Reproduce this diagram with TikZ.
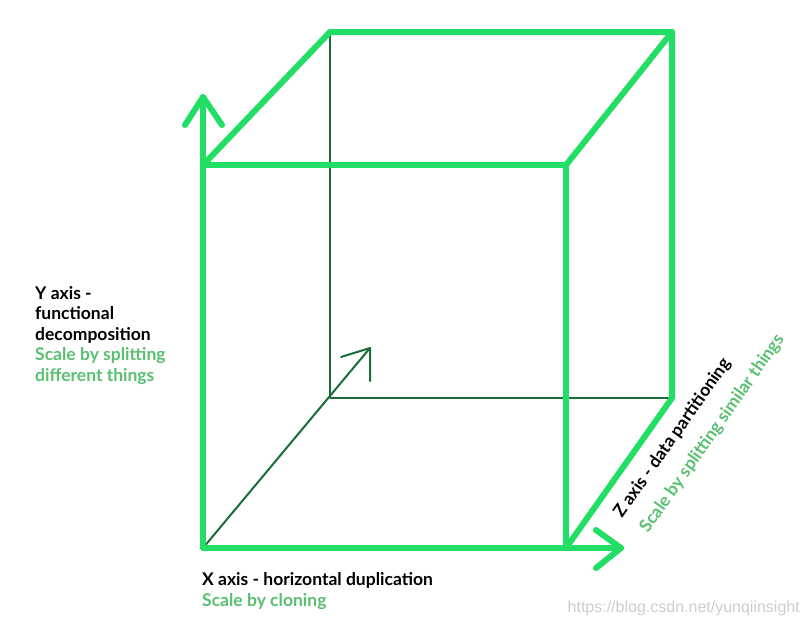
\documentclass[tikz,border=0pt]{standalone}
\usepackage{fontspec}
\setmainfont{Lato}
\newfontfamily\wmfont{Liberation Sans}
\definecolor{bright}{RGB}{34,222,100}
\definecolor{darkline}{RGB}{25,110,55}
\definecolor{txtgreen}{RGB}{88,192,112}
\definecolor{wmark}{RGB}{205,205,205}
\begin{document}
\begin{tikzpicture}[x=1pt,y=-1pt,
  edge/.style={bright,line width=6pt,line cap=round,line join=round},
  thin/.style={darkline,line width=2pt,line cap=round,line join=round},
  lbl/.style={font=\fontsize{17.5}{20.5}\selectfont\bfseries,inner sep=0pt,align=left},
]
\useasboundingbox (0,0) rectangle (808,625);
% cube corners
\coordinate (FTL) at (203,165);
\coordinate (FTR) at (566,165);
\coordinate (FBL) at (203,548);
\coordinate (FBR) at (566,548);
\coordinate (BTL) at (330,32);
\coordinate (BTR) at (672,32);
\coordinate (BBL) at (330,398);
\coordinate (BBR) at (672,398);
% axis arrow tips
\coordinate (YT) at (203,97);
\coordinate (YA) at (185,125);
\coordinate (YB) at (222,125);
\coordinate (XT) at (621,548);
\coordinate (XA) at (596,530);
\coordinate (XB) at (596,568);
\coordinate (ZT) at (370,348);
\coordinate (ZA) at (341,357);
\coordinate (ZB) at (370,381);
% hidden (thin) edges
\draw[thin] (BTL) -- (BBL) -- (BBR);
\draw[thin] (FBL) -- (ZT);
\draw[thin] (ZA) -- (ZT) -- (ZB);
% visible edges
\draw[edge] (BTL) -- (BTR) -- (BBR) -- (FBR);
\draw[edge] (FTL) -- (BTL);
\draw[edge] (FTR) -- (BTR);
\draw[edge] (FTL) -- (FTR) -- (FBR);
\draw[edge] (YT) -- (FBL) -- (XT);
\draw[edge] (YA) -- (YT) -- (YB);
\draw[edge] (XA) -- (XT) -- (XB);
% labels
\node[lbl,anchor=base west] (ylab) at (35,340) {Y axis -\\functional\\decomposition};
\node[lbl,anchor=base west,text=txtgreen] (ysub) at (35,381) {Scale by splitting\\different things};
\node[lbl,anchor=base west] (xlab) at (202,585) {X axis - horizontal duplication};
\node[lbl,anchor=base west,text=txtgreen] (xsub) at (202,606) {Scale by cloning};
\node[lbl,anchor=base west,rotate=55] (zlab) at (622,519) {Z axis - data partitioning};
\node[lbl,anchor=base west,rotate=55,text=txtgreen] (zsub) at (648,534) {Scale by splitting similar things};
\node[font=\wmfont\fontsize{16}{16}\selectfont,text=wmark,anchor=base east,inner sep=0pt] (wm) at (800,612) {https://blog.csdn.net/yunqiinsight};
\end{tikzpicture}
\end{document}
